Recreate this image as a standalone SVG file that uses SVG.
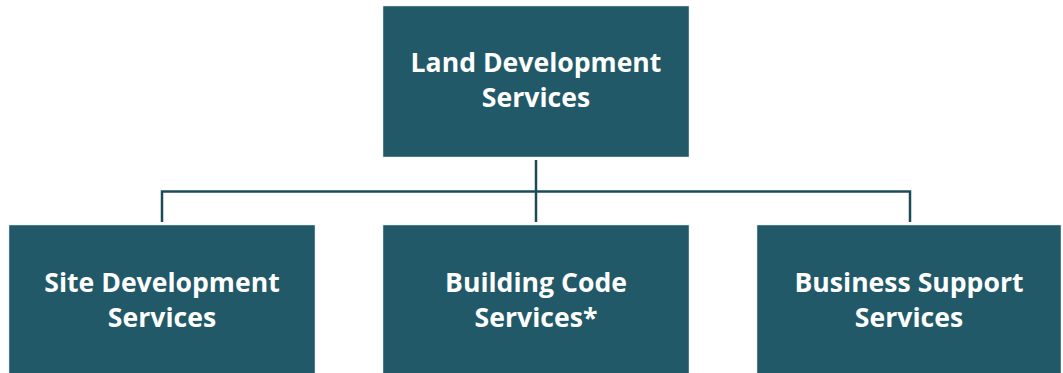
<svg xmlns="http://www.w3.org/2000/svg" width="1063" height="373" viewBox="0 0 1063 373">
<style>
.box{fill:#215968;stroke:#d9e3e6;stroke-width:0.5}
.lbl{font-family:"Open Sans","Noto Sans",sans-serif;font-weight:bold;font-size:26.6px;fill:#ffffff;text-anchor:middle}
.conn{stroke:#1c4b57;stroke-width:2.5;fill:none}
</style>
<rect width="1063" height="373" fill="#ffffff"/>
<g id="connectors">
<path class="conn" d="M536 160 V222"/>
<path class="conn" d="M162 222 V191.5 H910 V222"/>
</g>
<g id="land">
<rect class="box" x="383" y="6" width="306" height="151"/>
<text class="lbl" x="536" y="72">Land Development</text>
<text class="lbl" x="536" y="107">Services</text>
</g>
<g id="site">
<rect class="box" x="9" y="225" width="306" height="150"/>
<text class="lbl" x="162" y="292">Site Development</text>
<text class="lbl" x="162" y="327">Services</text>
</g>
<g id="building">
<rect class="box" x="383" y="225" width="306" height="150"/>
<text class="lbl" x="536" y="292">Building Code</text>
<text class="lbl" x="536" y="327">Services*</text>
</g>
<g id="business">
<rect class="box" x="757" y="225" width="304" height="150"/>
<text class="lbl" x="909" y="292">Business Support</text>
<text class="lbl" x="909" y="327">Services</text>
</g>
</svg>
